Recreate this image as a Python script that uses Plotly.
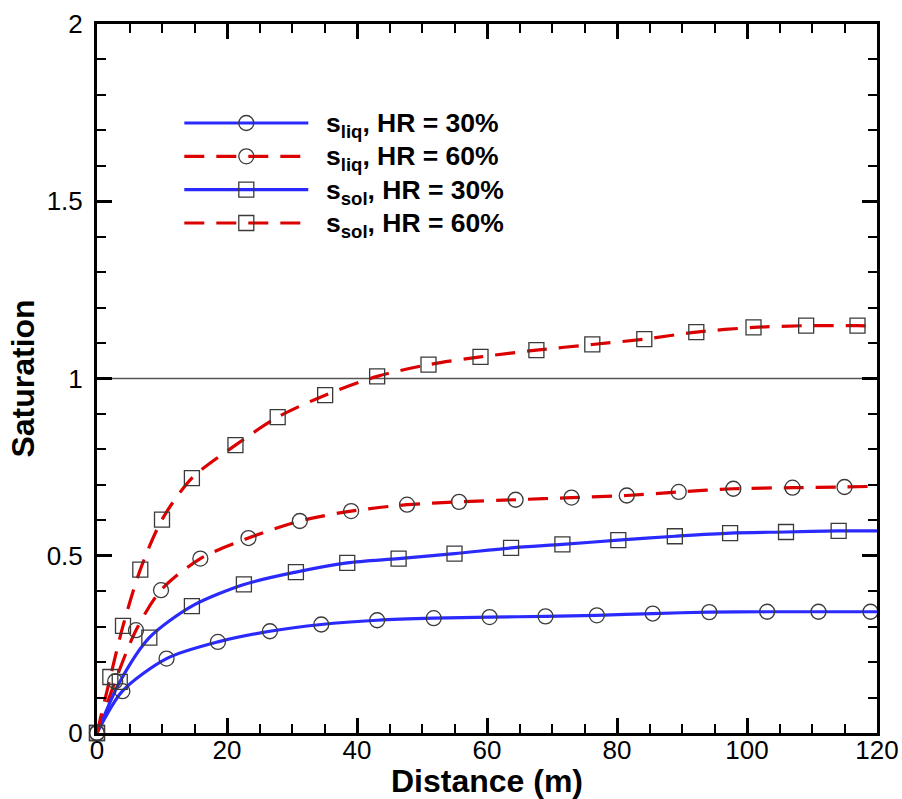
import plotly.graph_objects as go

# ---- data ----
# s_liq, HR = 30%  (blue, circles)
liq30_x = [0, 3.9, 10.7, 18.6, 26.6, 34.5, 43.1, 51.8, 60.4, 69.0, 76.9, 85.5, 94.2, 103.1, 111.0, 119.0]
liq30_y = [0.0, 0.118, 0.210, 0.257, 0.287, 0.306, 0.318, 0.324, 0.327, 0.329, 0.332, 0.337, 0.341, 0.342, 0.342, 0.342]
liq30_end = 0.342

# s_liq, HR = 60%  (red dashed, circles)
liq60_x = [0, 2.8, 6.0, 9.85, 15.9, 23.3, 31.2, 39.1, 47.7, 55.7, 64.4, 73.0, 81.5, 89.5, 97.9, 107.0, 115.0]
liq60_y = [0.0, 0.146, 0.290, 0.403, 0.492, 0.550, 0.598, 0.626, 0.644, 0.652, 0.658, 0.664, 0.670, 0.680, 0.689, 0.692, 0.694]
liq60_end = 0.696

# s_sol, HR = 30%  (blue, squares)
sol30_x = [0, 3.5, 8.05, 14.6, 22.6, 30.6, 38.5, 46.4, 55.0, 63.7, 71.6, 80.2, 88.9, 97.4, 106.0, 114.1]
sol30_y = [0.0, 0.144, 0.269, 0.358, 0.419, 0.454, 0.480, 0.492, 0.506, 0.522, 0.532, 0.544, 0.555, 0.564, 0.567, 0.570]
sol30_end = 0.570

# s_sol, HR = 60%  (red dashed, squares)
sol60_x = [0, 2.05, 4.0, 6.66, 10.0, 14.6, 21.3, 27.8, 35.1, 43.1, 51.0, 59.0, 67.6, 76.2, 84.2, 92.2, 101.0, 109.1, 117.0]
sol60_y = [0.0, 0.158, 0.302, 0.461, 0.602, 0.719, 0.812, 0.891, 0.953, 1.006, 1.039, 1.061, 1.080, 1.096, 1.111, 1.131, 1.144, 1.149, 1.149]
sol60_end = 1.148

x_end = 120
x_ticks = [0, 20, 40, 60, 80, 100, 120]
y_ticks = [0, 0.5, 1, 1.5, 2]
y_ticktext = ["0", "0.5", "1", "1.5", "2"]

labels = ["s<sub>liq</sub>, HR = 30%", "s<sub>liq</sub>, HR = 60%",
          "s<sub>sol</sub>, HR = 30%", "s<sub>sol</sub>, HR = 60%"]

BLUE = "#2a2aff"
RED = "#dd0000"
MK = "#3a3a3a"
FONT = "Liberation Sans, Arial, Helvetica, sans-serif"
DASH = "20px,12px"

series = [
    (liq30_x, liq30_y, liq30_end, BLUE, "solid", "circle-open"),
    (liq60_x, liq60_y, liq60_end, RED, DASH, "circle-open"),
    (sol30_x, sol30_y, sol30_end, BLUE, "solid", "square-open"),
    (sol60_x, sol60_y, sol60_end, RED, DASH, "square-open"),
]

fig = go.Figure()

# lines
for (xs, ys, ye, col, dash, sym), lab in zip(series, labels):
    fig.add_trace(go.Scatter(
        x=list(xs) + [x_end], y=list(ys) + [ye], mode="lines",
        line=dict(color=col, width=3.2, dash=dash, shape="spline", smoothing=0.8),
        name=lab, showlegend=False, hoverinfo="skip"))

# markers
for (xs, ys, ye, col, dash, sym), lab in zip(series, labels):
    fig.add_trace(go.Scatter(
        x=xs, y=ys, mode="markers",
        marker=dict(symbol=sym, size=15, color=MK, line=dict(color=MK, width=1.3)),
        name=lab, showlegend=False, cliponaxis=False))

# y = 1 reference line
fig.add_shape(type="line", xref="x", yref="y", x0=0, x1=x_end, y0=1, y1=1,
              line=dict(color="#555555", width=1.4), layer="below")

# ---- custom legend (paper coordinates) ----
L, R, T, B = 96.7, 876.7, 23.7, 732.7
W, H = R - L, B - T
def px(xp):
    return (xp - L) / W
def py(yp):
    return (B - yp) / H

rows = [122.7, 156.0, 189.3, 222.7]
for (xs, ys, ye, col, dash, sym), lab, ry in zip(series, labels, rows):
    fig.add_shape(type="line", xref="paper", yref="paper",
                  x0=px(184), x1=px(308), y0=py(ry), y1=py(ry),
                  line=dict(color=col, width=3.2, dash=dash))
    shp = "circle" if sym.startswith("circle") else "rect"
    fig.add_shape(type=shp, xref="paper", yref="paper",
                  xsizemode="pixel", ysizemode="pixel",
                  xanchor=px(246), yanchor=py(ry),
                  x0=-7.5, x1=7.5, y0=-7.5, y1=7.5,
                  line=dict(color=MK, width=1.3), fillcolor="rgba(0,0,0,0)")
    fig.add_annotation(xref="paper", yref="paper", x=px(324), y=py(ry + 2),
                       xanchor="left", yanchor="middle", showarrow=False,
                       text="<b>" + lab + "</b>",
                       font=dict(family=FONT, size=26.5, color="black"))

axis_common = dict(
    showline=True, linewidth=3, linecolor="black", mirror="allticks",
    ticks="inside", ticklen=15, tickwidth=3, tickcolor="black",
    showgrid=False, zeroline=False,
    tickfont=dict(family=FONT, size=26, color="black"),
)

fig.update_layout(
    width=902, height=799,
    margin=dict(l=97, r=25, t=24, b=66),
    paper_bgcolor="white", plot_bgcolor="white",
    showlegend=False,
    xaxis=dict(range=[0, 120], tickvals=x_ticks, ticktext=[str(v) for v in x_ticks],
               minor=dict(dtick=5, ticks="inside", ticklen=9, tickwidth=1.5, tickcolor="black"),
               ticklabelstandoff=-8,
               title=dict(text="<b>Distance (m)</b>", standoff=0,
                          font=dict(family=FONT, size=32, color="black")),
               automargin=False, **axis_common),
    yaxis=dict(range=[0, 2], tickvals=y_ticks, ticktext=y_ticktext,
               minor=dict(dtick=0.1, ticks="inside", ticklen=9, tickwidth=1.5, tickcolor="black"),
               ticklabelstandoff=6,
               title=dict(text="<b>Saturation</b>", standoff=3,
                          font=dict(family=FONT, size=32, color="black")),
               automargin=False, **axis_common),
)

fig.write_html("out.html", config={"displayModeBar": False},
               post_script="document.body.style.margin='0px';")
